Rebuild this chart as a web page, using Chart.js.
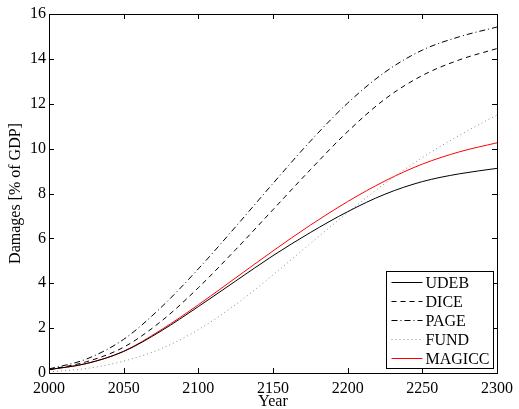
<!DOCTYPE html>
<html>
<head>
<meta charset="utf-8">
<script src="https://cdn.jsdelivr.net/npm/chart.js@4/dist/chart.umd.min.js"></script>
<style>
  html, body { margin: 0; padding: 0; background: #fff; }
  #wrap { width: 519px; height: 409px; }
</style>
</head>
<body>
<div id="wrap"><canvas id="myChart" width="519" height="409"></canvas></div>
<script>
const years = [2000, 2025, 2050, 2075, 2100, 2125, 2150, 2175, 2200, 2225, 2250, 2275, 2300];
const udeb = [0.15, 0.42, 0.96, 1.87, 2.96, 4.1, 5.23, 6.26, 7.19, 7.97, 8.53, 8.88, 9.12];
const dice = [0.15, 0.5, 1.15, 2.3, 3.8, 5.5, 7.28, 9.06, 10.76, 12.21, 13.26, 13.96, 14.46];
const page = [0.18, 0.62, 1.5, 2.92, 4.64, 6.52, 8.45, 10.33, 12.03, 13.41, 14.39, 14.99, 15.42];
const fund = [0.05, 0.2, 0.53, 1.08, 1.93, 3.05, 4.37, 5.77, 7.15, 8.45, 9.6, 10.6, 11.5];
const magicc = [0.15, 0.42, 0.97, 1.92, 3.04, 4.24, 5.44, 6.59, 7.64, 8.56, 9.31, 9.86, 10.26];

const xTicks = [2000, 2050, 2100, 2150, 2200, 2250, 2300];
const yTicks = [0, 2, 4, 6, 8, 10, 12, 14, 16];

const serif = '"Liberation Serif", "Times New Roman", serif';

function pts(vals) {
    return years.map((y, i) => ({ x: y, y: vals[i] }));
}

function series(label, vals, color, dash) {
    return {
        label: label,
        data: pts(vals),
        borderColor: color,
        borderWidth: 1,
        borderDash: dash,
        fill: false,
        pointRadius: 0,
        cubicInterpolationMode: 'monotone'
    };
}

// box round the plot with inward ticks on all four sides
const frame = {
    id: 'frame',
    afterDatasetsDraw(chart) {
        const c = chart.ctx;
        const a = chart.chartArea;
        const xs = chart.scales.x;
        const ys = chart.scales.y;
        const t = 5;
        c.save();
        c.strokeStyle = '#000';
        c.lineWidth = 1;
        c.beginPath();
        for (const v of xTicks) {
            const px = Math.round(xs.getPixelForValue(v)) + 0.5;
            c.moveTo(px, a.bottom); c.lineTo(px, a.bottom - t);
            c.moveTo(px, a.top); c.lineTo(px, a.top + t);
        }
        for (const v of yTicks) {
            const py = Math.round(ys.getPixelForValue(v)) + 0.5;
            c.moveTo(a.left, py); c.lineTo(a.left + t, py);
            c.moveTo(a.right, py); c.lineTo(a.right - t, py);
        }
        c.stroke();
        c.strokeRect(Math.round(a.left) + 0.5, Math.round(a.top) + 0.5,
            Math.round(a.right - a.left), Math.round(a.bottom - a.top));
        c.restore();
    }
};

// legend box in the lower right corner of the plot
const boxLegend = {
    id: 'boxLegend',
    afterDraw(chart) {
        const c = chart.ctx;
        const a = chart.chartArea;
        const w = 107, h = 97;
        const bx = Math.round(a.right - 4 - w) + 0.5;
        const by = Math.round(a.bottom - 5 - h) + 0.5;
        c.save();
        c.fillStyle = '#fff';
        c.fillRect(bx, by, w, h);
        c.strokeStyle = '#000';
        c.lineWidth = 1;
        c.strokeRect(bx, by, w, h);
        c.font = '16px ' + serif;
        c.textBaseline = 'middle';
        chart.data.datasets.forEach((ds, i) => {
            const yy = Math.round(by + 10 + i * 19) + 0.5;
            c.strokeStyle = ds.borderColor;
            c.setLineDash(ds.borderDash || []);
            c.beginPath();
            c.moveTo(bx + 5, yy);
            c.lineTo(bx + 36, yy);
            c.stroke();
            c.setLineDash([]);
            c.fillStyle = '#000';
            c.fillText(ds.label, bx + 39, yy + 1);
        });
        c.restore();
    }
};

const ctx = document.getElementById('myChart').getContext('2d');

const chart = new Chart(ctx, {
    type: 'line',
    data: {
        datasets: [
            series('UDEB', udeb, '#000000', []),
            series('DICE', dice, '#000000', [5, 4]),
            series('PAGE', page, '#000000', [6, 3, 1, 3]),
            series('FUND', fund, '#888888', [1, 3]),
            series('MAGICC', magicc, '#ff0000', [])
        ]
    },
    options: {
        responsive: false,
        animation: false,
        layout: {
            padding: { top: 14, right: 16, left: 0, bottom: 0 }
        },
        scales: {
            x: {
                type: 'linear',
                min: 2000,
                max: 2300,
                afterBuildTicks: (s) => { s.ticks = xTicks.map(v => ({ value: v })); },
                afterFit: (s) => { s.height = 36; },
                grid: { display: false, drawTicks: false },
                border: { display: false },
                ticks: {
                    color: '#000',
                    padding: 6,
                    maxRotation: 0,
                    autoSkip: false,
                    font: { family: serif, size: 16 },
                    callback: (v) => String(v)
                },
                title: {
                    display: true,
                    text: 'Year',
                    color: '#000',
                    padding: { top: 0, bottom: -1 },
                    font: { family: serif, size: 16, lineHeight: 1 }
                }
            },
            y: {
                min: 0,
                max: 16,
                afterBuildTicks: (s) => { s.ticks = yTicks.map(v => ({ value: v })); },
                afterFit: (s) => { s.width = 49; },
                grid: { display: false, drawTicks: false },
                border: { display: false },
                ticks: {
                    color: '#000',
                    padding: 3,
                    autoSkip: false,
                    font: { family: serif, size: 16 }
                },
                title: {
                    display: true,
                    text: 'Damages [% of GDP]',
                    color: '#000',
                    padding: { top: 8, bottom: 0 },
                    font: { family: serif, size: 16, lineHeight: 1 }
                }
            }
        },
        plugins: {
            legend: { display: false },
            tooltip: { enabled: false }
        }
    },
    plugins: [frame, boxLegend]
});
</script>
</body>
</html>
